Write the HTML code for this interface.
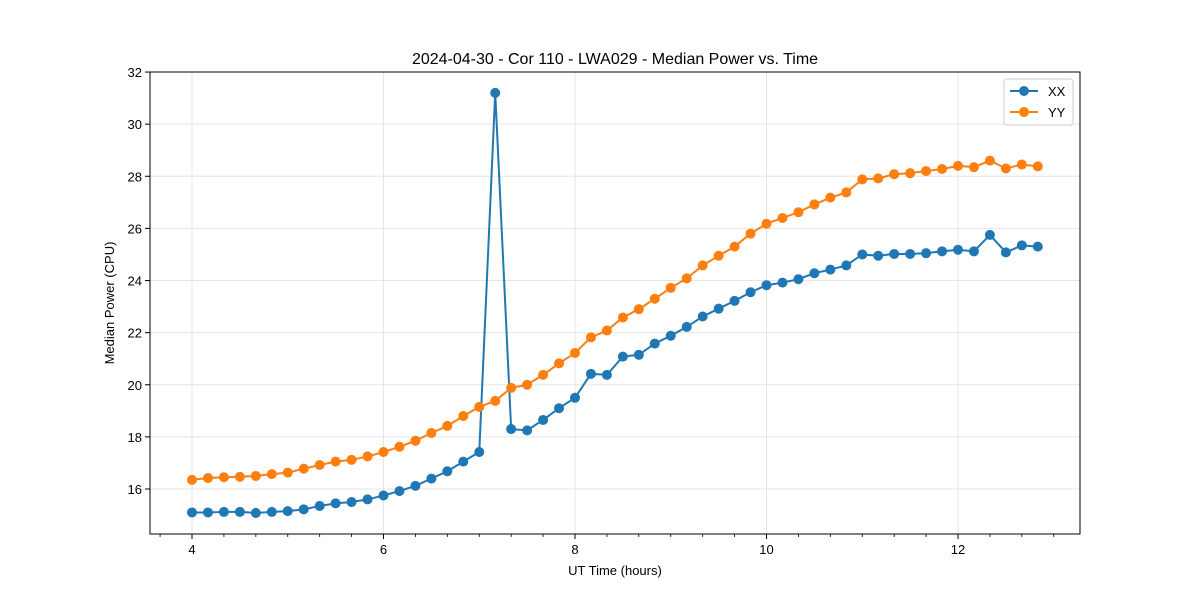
<!DOCTYPE html>
<html><head><meta charset="utf-8"><style>
body{margin:0;background:#fff}
svg text{font-family:"Liberation Sans","DejaVu Sans",sans-serif;fill:#000}
</style></head><body>
<svg id="chart" width="1200" height="600" xmlns="http://www.w3.org/2000/svg">
<rect width="1200" height="600" fill="#fff"/>
<g id="grid"></g><g id="axes"></g><g id="series"></g>
<text x="615" y="64" text-anchor="middle" font-size="16">2024-04-30 - Cor 110 - LWA029 - Median Power vs. Time</text>
<text x="615" y="575" text-anchor="middle" font-size="13">UT Time (hours)</text>
<text transform="translate(114,303) rotate(-90)" text-anchor="middle" font-size="13">Median Power (CPU)</text>
<g>
<rect x="1004" y="79" width="69" height="46" rx="3" fill="#fff" stroke="#ccc"/>
<line x1="1010" y1="91" x2="1038" y2="91" stroke="#1f77b4" stroke-width="2"/><circle cx="1024" cy="91" r="5" fill="#1f77b4"/>
<text x="1048" y="96" font-size="13">XX</text>
<line x1="1010" y1="112" x2="1038" y2="112" stroke="#ff7f0e" stroke-width="2"/><circle cx="1024" cy="112" r="5" fill="#ff7f0e"/>
<text x="1048" y="117" font-size="13">YY</text>
</g>
</svg>
<script>
const times = Array.from({length:54},(_,i)=>4+i/6);
const xxValues = [15.1,15.1,15.12,15.12,15.08,15.12,15.15,15.22,15.35,15.45,15.5,15.6,15.75,15.92,16.12,16.4,16.68,17.05,17.42,31.2,18.3,18.25,18.65,19.1,19.5,20.42,20.38,21.08,21.15,21.58,21.88,22.22,22.62,22.92,23.22,23.55,23.82,23.92,24.05,24.28,24.42,24.58,25.0,24.95,25.02,25.02,25.05,25.12,25.18,25.12,25.75,25.08,25.35,25.3];
const yyValues = [16.35,16.42,16.45,16.47,16.5,16.57,16.63,16.78,16.92,17.05,17.12,17.25,17.42,17.62,17.85,18.15,18.42,18.8,19.15,19.38,19.88,20.0,20.38,20.82,21.22,21.82,22.08,22.58,22.9,23.3,23.72,24.08,24.58,24.95,25.3,25.8,26.18,26.4,26.62,26.92,27.18,27.38,27.88,27.92,28.08,28.12,28.2,28.28,28.4,28.35,28.6,28.3,28.45,28.38];
const xTicks = [4,6,8,10,12];
const yTicks = [16,18,20,22,24,26,28,30,32];
const L=150,R=1080,T=72,B=534;
const xS=v=>192+(v-4)*95.75;
const yS=v=>489-(v-16)*26.06;
const NS="http://www.w3.org/2000/svg";
function mk(tag,attrs,parent){const e=document.createElementNS(NS,tag);for(const k in attrs)e.setAttribute(k,attrs[k]);parent.appendChild(e);return e;}
const grid=document.getElementById('grid'),axes=document.getElementById('axes'),ser=document.getElementById('series');
xTicks.forEach(t=>{const x=xS(t);
 const g=mk('line',{x1:x,x2:x,y1:T,y2:B,stroke:'#e5e5e5','stroke-width':1},grid);
 
 
 mk('line',{x1:x,x2:x,y1:B,y2:B+5,stroke:'#000'},axes);
 const tx=mk('text',{x:x,y:B+20,'text-anchor':'middle','font-size':13},axes);tx.textContent=t;
 
 
});
for(let v=11/3;v<13.3;v+=1/3){const x=xS(v);mk('line',{x1:x,x2:x,y1:B,y2:B+3,stroke:'#000','stroke-width':0.8},axes);}
yTicks.forEach(t=>{const y=yS(t);
 const g=mk('line',{x1:L,x2:R,y1:y,y2:y,stroke:'#e5e5e5','stroke-width':1},grid);
 
 
 mk('line',{x1:L-5,x2:L,y1:y,y2:y,stroke:'#000'},axes);
 const tx=mk('text',{x:L-8,y:y+5,'text-anchor':'end','font-size':13},axes);tx.textContent=t;
 
 
});
const fr=mk('rect',{x:L,y:T,width:R-L,height:B-T,fill:'none',stroke:'#000','stroke-width':1},axes);


function drawSeries(vals,color,name){
 const p=mk('polyline',{points:vals.map((v,i)=>xS(times[i])+','+yS(v)).join(' '),fill:'none',stroke:color,'stroke-width':2},ser);
 
 
 vals.forEach((v,i)=>{const c=mk('circle',{cx:xS(times[i]),cy:yS(v),r:5,fill:color},ser);
  
  });
}
drawSeries(xxValues,'#1f77b4','xx');
drawSeries(yyValues,'#ff7f0e','yy');
</script>
</body></html>
